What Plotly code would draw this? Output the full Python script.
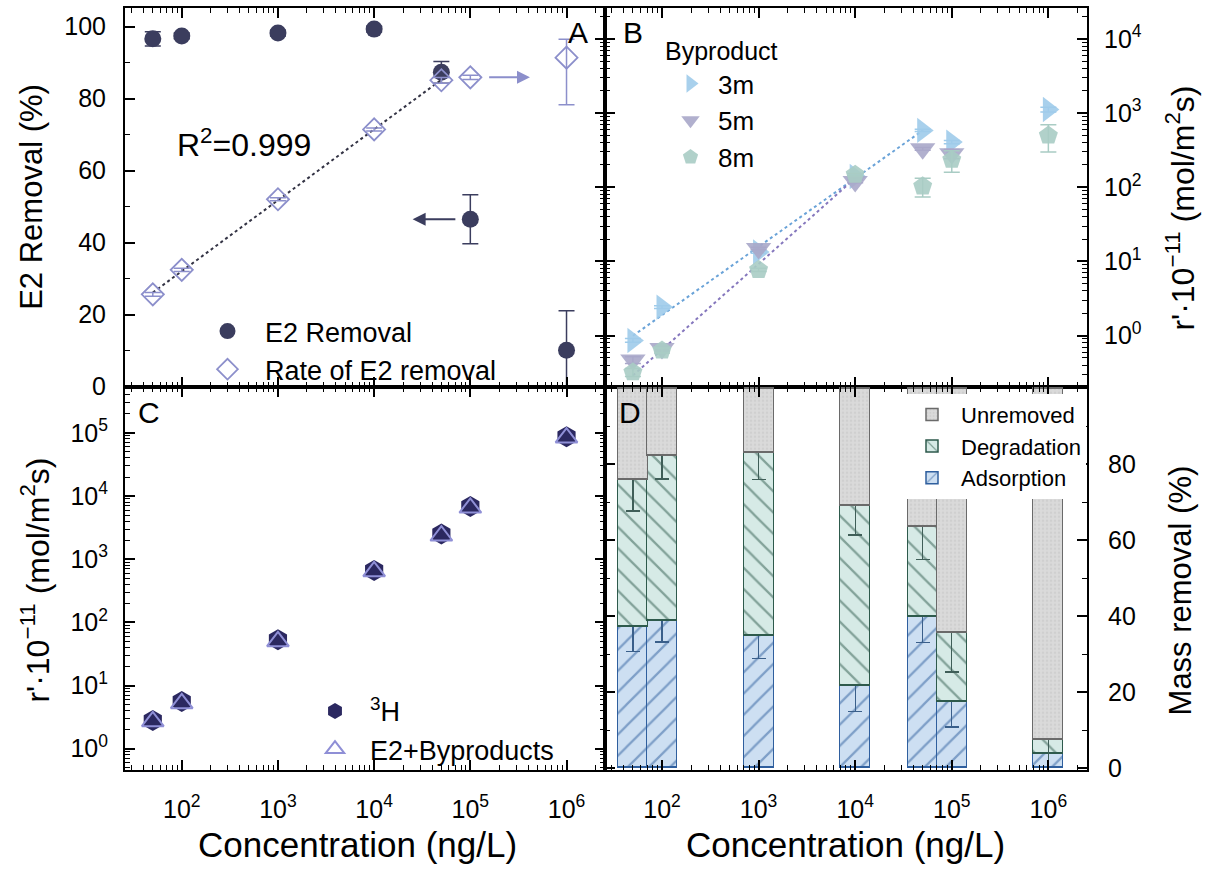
import numpy as np
import plotly.graph_objects as go

# ---------------- data ----------------
conc = [50, 100, 1000, 10000, 50000, 100000, 1000000]

# Panel A
e2_removal = [96.6, 97.4, 98.2, 99.3, 87.3, 46.5, 10.1]
e2_removal_err = [2.0, 0.8, 0.8, 0.8, 3.0, 6.8, 11.0]
rate_e2 = [3.6, 7.7, 69, 603, 2780, 3040, 5600]
rate_e2_err = [0.2, 0.4, 3, 30, 250, 200, 4300]

# Panel B (byproducts)
byp_3m = [0.86, 2.42, 13.4, 140, 585, 407, 1120]
byp_3m_err = [0.05, 0.1, 0.5, 5, 20, 20, 80]
byp_5m = [0.47, 0.67, 15, 120, 330, 283, None]
byp_5m_err = [0.05, 0.05, 0.5, 5, 15, 40, 0]
byp_8m = [0.32, 0.63, 7.7, 148, 103, 235, 500]
byp_8m_err = [0.04, 0.05, 0.4, 6, 29, 75, 200]

# Panel C
h3_rate = [2.8, 5.6, 53, 660, 2500, 6800, 87000]
e2_byp_rate = [2.7, 5.2, 50, 640, 2350, 6500, 84000]

# Panel D (mass removal %)
adsorption = [37.2, 38.8, 34.9, 21.6, 39.8, 17.5, 3.8]
adsorption_err = [6.6, 5.6, 6.1, 6.8, 6.7, 6.7, 7.2]
degradation = [38.8, 43.5, 48.1, 47.4, 23.8, 18.1, 3.6]
degradation_err = [8.3, 6.2, 7.0, 7.6, 8.6, 10.3, 13.2]
unremoved = [24.0, 17.7, 17.0, 31.0, 36.4, 64.4, 92.6]

x_exps = [2, 3, 4, 5, 6]
x_ticktext = [f"10<sup>{e}</sup>" for e in x_exps]

# ---------------- styling ----------------
FONT = "Liberation Sans, Arial, sans-serif"
NAVY = "#3b3d5e"
LAV = "#8c8fcb"
C3M = "#9ecbea"
C5M = "#a9a7c9"
C8M = "#a9ccc4"
HEX = "#2b2860"
TRI = "#8f8fd6"

W, H = 1210, 879
xl = [125 / W, 605 / W]
xr = [605 / W, 1087 / W]
yt = [1 - 393 / H, 1 - 8 / H]
yb = [1 - 782 / H, 1 - 393 / H]

XR = [1.41, 6.40]

def minor_log(lo, hi):
    return [k * 10 ** n for n in range(lo, hi) for k in range(2, 10)]

logc = np.log10(conc)

fig = go.Figure()

# ---------- Panel A ----------
fig.add_trace(go.Scatter(
    x=conc, y=e2_removal, mode="markers", name="E2 Removal",
    marker=dict(symbol="circle", size=17, color=NAVY),
    error_y=dict(type="data", array=e2_removal_err, color=NAVY, thickness=1.5, width=8),
    xaxis="x", yaxis="y", legend="legend", cliponaxis=False))

pA = np.polyfit(logc[:5], np.log10(rate_e2[:5]), 1)
fitx = np.array([logc[0], logc[4]])
fig.add_trace(go.Scatter(
    x=10 ** fitx, y=10 ** np.polyval(pA, fitx), mode="lines",
    line=dict(color="#333344", width=2, dash="dot"), showlegend=False,
    xaxis="x", yaxis="y2"))

fig.add_trace(go.Scatter(
    x=conc, y=rate_e2, mode="markers", name="Rate of E2 removal",
    marker=dict(symbol="diamond-open", size=17, color=LAV, line=dict(width=1.8, color=LAV)),
    error_y=dict(type="data", array=rate_e2_err, color=LAV, thickness=1.5, width=8),
    xaxis="x", yaxis="y2", legend="legend"))

# ---------- Panel B ----------
pB1 = np.polyfit(logc[:5], np.log10(byp_3m[:5]), 1)
fx1 = np.array([logc[0], logc[4]])
fig.add_trace(go.Scatter(
    x=10 ** fx1, y=10 ** np.polyval(pB1, fx1), mode="lines",
    line=dict(color="#6aa3d8", width=2, dash="dot"), showlegend=False,
    xaxis="x2", yaxis="y3"))
pB2 = np.polyfit(logc[:4], np.log10(byp_8m[:4]), 1)
fx2 = np.array([logc[0], logc[3]])
fig.add_trace(go.Scatter(
    x=10 ** fx2, y=10 ** np.polyval(pB2, fx2), mode="lines",
    line=dict(color="#8577bd", width=2, dash="dot"), showlegend=False,
    xaxis="x2", yaxis="y3"))

for name, vals, errs, sym, col, sz in [
        ("3m", byp_3m, byp_3m_err, "triangle-right", C3M, 22),
        ("5m", byp_5m, byp_5m_err, "triangle-down", C5M, 22),
        ("8m", byp_8m, byp_8m_err, "pentagon", C8M, 20)]:
    fig.add_trace(go.Scatter(
        x=conc, y=vals, mode="markers", name=name,
        marker=dict(symbol=sym, size=sz, color=col, opacity=0.9),
        error_y=dict(type="data", array=errs, color=col, thickness=1.5, width=8),
        xaxis="x2", yaxis="y3", legend="legend2"))

# ---------- Panel C ----------
fig.add_trace(go.Scatter(
    x=conc, y=h3_rate, mode="markers", name="<sup>3</sup>H",
    marker=dict(symbol="hexagon", size=21, color=HEX),
    xaxis="x3", yaxis="y4", legend="legend3"))
fig.add_trace(go.Scatter(
    x=conc, y=e2_byp_rate, mode="markers", name="E2+Byproducts",
    marker=dict(symbol="triangle-up-open", size=19, color=TRI, line=dict(width=2, color=TRI)),
    xaxis="x3", yaxis="y4", legend="legend3"))

# ---------- Panel D ----------
BW = 0.31
fig.add_trace(go.Bar(
    x=logc, y=adsorption, width=BW, name="Adsorption",
    marker=dict(color="#cddff2", line=dict(color="#2f5f9e", width=1.5),
                pattern=dict(shape="/", fgcolor="#2f5f9e", bgcolor="#cddff2", size=15, solidity=0.15)),
    error_y=dict(type="data", array=adsorption_err, color="#3a5f8a", thickness=1.3, width=7),
    xaxis="x4", yaxis="y5", legend="legend4"))
fig.add_trace(go.Bar(
    x=logc, y=degradation, width=BW, name="Degradation",
    marker=dict(color="#d6eae6", line=dict(color="#2e5a4c", width=1.5),
                pattern=dict(shape="\\", fgcolor="#2e5a4c", bgcolor="#d6eae6", size=15, solidity=0.15)),
    error_y=dict(type="data", array=degradation_err, color="#3f5e58", thickness=1.3, width=7),
    xaxis="x4", yaxis="y5", legend="legend4"))
fig.add_trace(go.Bar(
    x=logc, y=unremoved, width=BW, name="Unremoved",
    marker=dict(color="#dadada", line=dict(color="#6a6a6a", width=1.5),
                pattern=dict(shape=".", fgcolor="#c4c4c4", bgcolor="#dadada", size=4, solidity=0.3)),
    xaxis="x4", yaxis="y5", legend="legend4"))

# ---------------- axes ----------------
tickfont = dict(family=FONT, size=25, color="black")
base = dict(showline=True, linecolor="black", linewidth=2, ticks="inside", ticklen=10,
            tickwidth=1.5, tickcolor="black", showgrid=False, zeroline=False, tickfont=tickfont)

def logx(domain, anchor, labels):
    d = dict(base)
    d.update(type="log", domain=domain, anchor=anchor, range=XR, mirror="ticks",
             tickmode="array", tickvals=[10 ** e for e in x_exps], ticktext=x_ticktext,
             showticklabels=labels, ticklabelstandoff=16,
             minor=dict(tickmode="array", tickvals=minor_log(1, 7), ticks="inside", ticklen=5,
                        tickwidth=1.2, tickcolor="black"))
    return d

fig.update_layout(
    xaxis=logx(xl, "y", False),
    xaxis2=logx(xr, "y3", False),
    xaxis3=logx(xl, "y4", True),
)
xd = dict(base)
xd.update(type="linear", domain=xr, anchor="y5", range=XR, mirror="ticks",
          tickmode="array", tickvals=x_exps, ticktext=x_ticktext, ticklabelstandoff=16,
          minor=dict(tickmode="array", tickvals=list(np.log10(minor_log(1, 7))), ticks="inside",
                     ticklen=5, tickwidth=1.2, tickcolor="black"))
fig.update_layout(xaxis4=xd)

ya = dict(base)
ya.update(domain=yt, anchor="x", range=[0, 105.2], tickmode="array",
          tickvals=[0, 20, 40, 60, 80, 100], mirror=False, ticklabelstandoff=12,
          minor=dict(tickmode="array", tickvals=[10, 30, 50, 70, 90], ticks="inside",
                     ticklen=5, tickwidth=1.2, tickcolor="black"))
fig.update_layout(yaxis=ya)

def logy(domain, anchor, rng, lo, hi, side, labels, mirror, overlay=None):
    d = dict(base)
    d.update(type="log", domain=domain, anchor=anchor, range=rng, side=side,
             tickmode="array", tickvals=[10 ** e for e in range(lo, hi + 1)],
             ticktext=[f"10<sup>{e}</sup>" for e in range(lo, hi + 1)],
             showticklabels=labels, mirror=mirror, ticklabelstandoff=10,
             minor=dict(tickmode="array", tickvals=minor_log(lo - 1, hi + 1), ticks="inside",
                        ticklen=5, tickwidth=1.2, tickcolor="black"))
    if overlay:
        d["overlaying"] = overlay
    return d

fig.update_layout(
    yaxis2=logy(yt, "x", [-0.69, 4.42], 0, 4, "right", False, False, overlay="y"),
    yaxis3=logy(yt, "x2", [-0.69, 4.42], 0, 4, "right", True, "ticks"),
    yaxis4=logy(yb, "x3", [-0.33, 5.73], 0, 5, "left", True, "ticks"),
)
yd = dict(base)
yd.update(domain=yb, anchor="x4", range=[-0.4, 100.4], side="right", mirror="ticks",
          tickmode="array", tickvals=[0, 20, 40, 60, 80], ticklabelstandoff=14,
          minor=dict(tickmode="array", tickvals=[10, 30, 50, 70, 90], ticks="inside",
                     ticklen=5, tickwidth=1.2, tickcolor="black"))
fig.update_layout(yaxis5=yd)

# ---------------- legends ----------------
fig.update_layout(
    legend=dict(x=190 / W, y=1 - 312 / H, xanchor="left", yanchor="top", itemwidth=65,
                font=dict(family=FONT, size=27, color="black"), bgcolor="rgba(0,0,0,0)",
                tracegroupgap=0),
    legend2=dict(x=663 / W, y=1 - 28 / H, xanchor="left", yanchor="top", itemwidth=45,
                 title=dict(text="Byproduct", font=dict(family=FONT, size=25, color="black")),
                 font=dict(family=FONT, size=26, color="black"), bgcolor="rgba(0,0,0,0)"),
    legend3=dict(x=300 / W, y=1 - 698 / H, xanchor="left", yanchor="top", itemwidth=60,
                 font=dict(family=FONT, size=27, color="black"), bgcolor="rgba(0,0,0,0)"),
    legend4=dict(x=903 / W, y=1 - 400 / H, xanchor="left", yanchor="top", itemwidth=48,
                 font=dict(family=FONT, size=22, color="black"), bgcolor="white",
                 traceorder="reversed"),
)

# ---------------- annotations ----------------
ann = []
def txt(t, x, y, size, angle=0):
    ann.append(dict(text=t, x=x / W, y=1 - y / H, xref="paper", yref="paper",
                    xanchor="center", yanchor="middle",
                    showarrow=False, textangle=angle,
                    font=dict(family=FONT, size=size, color="black")))

txt("R<sup>2</sup>=0.999", 244, 145, 32)
txt("A", 578, 33, 30)
txt("B", 633, 33, 30)
txt("C", 149, 419, 30)
txt("D", 630, 419, 30)
rate_title = "r'·10<sup>−11</sup> (mol/m<sup>2</sup>s)"
txt("E2 Removal (%)", 32, 200, 31, -90)
txt(rate_title, 35, 590, 32, -90)
txt(rate_title, 1180, 212, 32, -90)
txt("Mass removal (%)", 1180, 600, 31, -90)
txt("Concentration (ng/L)", 357, 858, 35)
txt("Concentration (ng/L)", 845, 858, 35)

# arrows pointing to the relevant axis
ann.append(dict(x=logc[5] - 0.6, y=e2_removal[5], ax=logc[5] - 0.14, ay=e2_removal[5],
                xref="x", yref="y", axref="x", ayref="y", text="", showarrow=True,
                arrowhead=2, arrowsize=1.3, arrowwidth=2, arrowcolor=NAVY))
ann.append(dict(x=logc[5] + 0.62, y=np.log10(rate_e2[5]), ax=logc[5] + 0.18,
                ay=np.log10(rate_e2[5]), xref="x", yref="y2", axref="x", ayref="y2",
                text="", showarrow=True, arrowhead=2, arrowsize=1.3, arrowwidth=2,
                arrowcolor=LAV))

fig.update_layout(
    annotations=ann,
    width=W, height=H, margin=dict(l=0, r=0, t=0, b=0),
    paper_bgcolor="white", plot_bgcolor="white",
    barmode="stack", bargap=0,
    font=dict(family=FONT, color="black"),
)

fig.write_html("out.html")
